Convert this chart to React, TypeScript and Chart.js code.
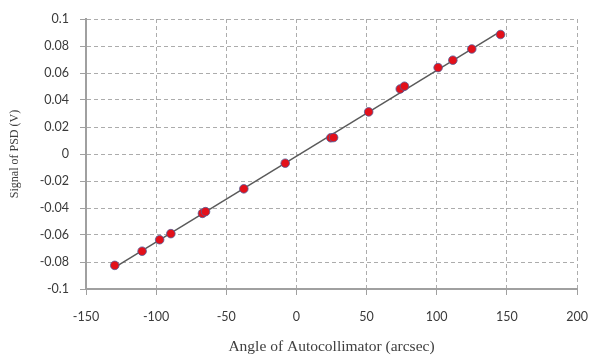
import React, { useEffect, useRef } from "react";
import { Chart, registerables } from "chart.js";

Chart.register(...registerables);

const angles = [-129.5, -110, -97.5, -89.5, -67, -64.8, -37.5, -8, 24.5, 26.5, 51.5, 74, 77, 101, 111.5, 125, 145.5];
const signals = [-0.0825, -0.072, -0.0635, -0.059, -0.044, -0.0427, -0.0258, -0.0068, 0.012, 0.0122, 0.0312, 0.0482, 0.0502, 0.064, 0.0695, 0.0778, 0.0885];

const xTicks = [-150, -100, -50, 0, 50, 100, 150, 200];
const xTickLabels = ["-150", "-100", "-50", "0", "50", "100", "150", "200"];
const yTicks = [-0.1, -0.08, -0.06, -0.04, -0.02, 0, 0.02, 0.04, 0.06, 0.08, 0.1];
const yTickLabels = ["-0.1", "-0.08", "-0.06", "-0.04", "-0.02", "0", "0.02", "0.04", "0.06", "0.08", "0.1"];

const xTitle = "Angle of Autocollimator (arcsec)";
const yTitle = "Signal of PSD (V)";

function fitLine(xs: number[], ys: number[]) {
  const n = xs.length;
  const mx = xs.reduce((a, b) => a + b, 0) / n;
  const my = ys.reduce((a, b) => a + b, 0) / n;
  let sxy = 0, sxx = 0;
  for (let i = 0; i < n; i++) {
    sxy += (xs[i] - mx) * (ys[i] - my);
    sxx += (xs[i] - mx) * (xs[i] - mx);
  }
  const m = sxy / sxx;
  const b = my - m * mx;
  const x0 = Math.min(...xs), x1 = Math.max(...xs);
  return [{ x: x0, y: m * x0 + b }, { x: x1, y: m * x1 + b }];
}

export default function App() {
  const ref = useRef<HTMLCanvasElement>(null);
  useEffect(() => {
    document.body.style.margin = "0";
    const ctx = ref.current!;
    const tickFont = { family: "Lato, 'Open Sans', sans-serif", size: 12.5 };
    const serif = "'Liberation Serif', 'DejaVu Serif', serif";
    const gridColor = "#acacac";
    const axisColor = "#a0a0a0";
    const chart = new Chart(ctx, {
      type: "scatter",
      data: {
        datasets: [
          {
            type: "line",
            data: fitLine(angles, signals),
            borderColor: "#5a5a5a",
            borderWidth: 1.5,
            pointRadius: 0,
            fill: false,
            order: 2,
          } as any,
          {
            data: angles.map((x, i) => ({ x, y: signals[i] })),
            backgroundColor: "#e3101a",
            borderColor: "#50609a",
            borderWidth: 0.8,
            pointRadius: 4.3,
            order: 1,
          },
        ],
      },
      options: {
        animation: false,
        responsive: false,
        maintainAspectRatio: false,
        layout: { padding: { left: 0, right: 13, top: 19, bottom: 0 } },
        plugins: { legend: { display: false }, tooltip: { enabled: false } },
        scales: {
          x: {
            type: "linear",
            min: -150,
            max: 200,
            afterBuildTicks: (s: any) => { s.ticks = xTicks.map((v) => ({ value: v })); },
            afterFit: (s: any) => { s.height = 66; s.paddingLeft = 0; s.paddingRight = 0; },
            ticks: {
              font: tickFont,
              color: "#3a3a3a",
              padding: 14,
              callback: (v: any) => { const i = xTicks.indexOf(Number(v)); return i >= 0 ? xTickLabels[i] : ""; },
            },
            grid: {
              color: gridColor,
              lineWidth: 1,
              tickColor: axisColor,
              tickLength: 6,
              tickBorderDash: [],
              drawTicks: true,
            },
            border: { display: true, color: axisColor, width: 2, dash: [4, 3] },
            title: { display: true, text: xTitle, font: { family: serif, size: 15.5, lineHeight: 1 }, color: "#404040", padding: { top: 0, bottom: 0 } },
          },
          y: {
            type: "linear",
            min: -0.1,
            max: 0.1,
            afterBuildTicks: (s: any) => { s.ticks = yTicks.map((v) => ({ value: v })); },
            afterFit: (s: any) => { s.width = 86; s.paddingTop = 0; s.paddingBottom = 0; },
            ticks: {
              font: tickFont,
              color: "#3a3a3a",
              padding: 11,
              callback: (v: any) => {
                const i = yTicks.findIndex((t) => Math.abs(t - Number(v)) < 1e-9);
                return i >= 0 ? yTickLabels[i] : "";
              },
            },
            grid: {
              color: gridColor,
              lineWidth: 1,
              tickColor: axisColor,
              tickLength: 6,
              tickBorderDash: [],
              drawTicks: true,
            },
            border: { display: true, color: axisColor, width: 2, dash: [4, 3] },
            title: { display: true, text: yTitle, font: { family: serif, size: 12, lineHeight: 1 }, color: "#404040", padding: { top: 9, bottom: 0 } },
          },
        },
      } as any,
    });
    return () => chart.destroy();
  }, []);
  return (
    <div style={{ position: "absolute", left: 0, top: 0, width: 590, height: 355, background: "#fff" }}>
      <canvas ref={ref} width={590} height={355} style={{ width: 590, height: 355 }} />
    </div>
  );
}
